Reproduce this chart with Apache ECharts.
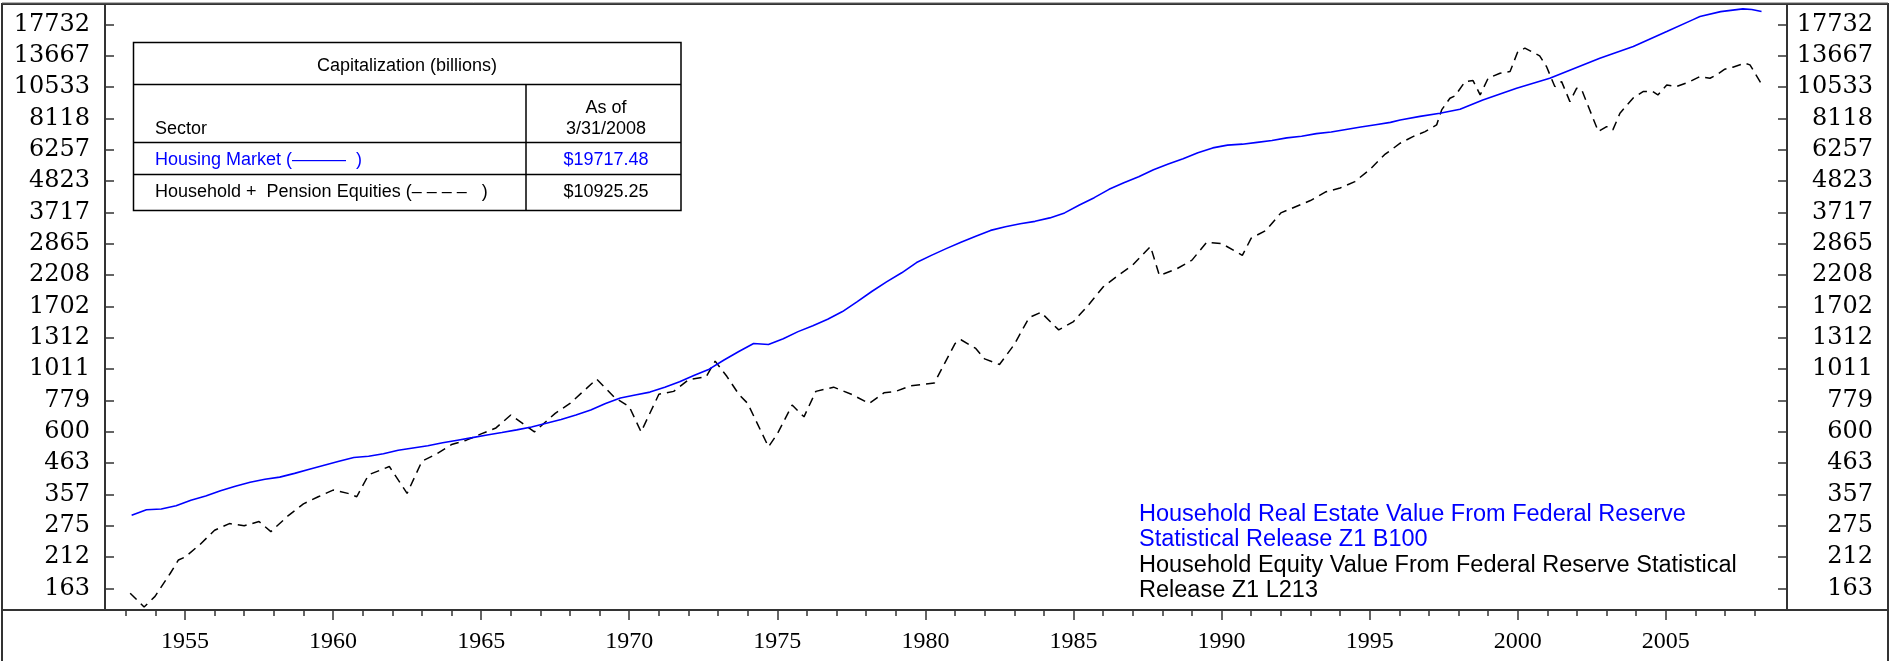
<!DOCTYPE html>
<html><head><meta charset="utf-8">
<script src="https://cdn.jsdelivr.net/npm/echarts@6/dist/echarts.min.js"></script>
<style>html,body{margin:0;padding:0;background:#fff}#c{width:1891px;height:661px}</style>
</head><body><div id="c"></div>
<script>
const yTickValues = [163,212,275,357,463,600,779,1011,1312,1702,2208,2865,3717,4823,6257,8118,10533,13667,17732];
const xMajorTicks = [1955,1960,1965,1970,1975,1980,1985,1990,1995,2000,2005];
const xMinorTicks = [1953,1954,1955,1956,1957,1958,1959,1960,1961,1962,1963,1964,1965,1966,1967,1968,1969,1970,1971,1972,1973,1974,1975,1976,1977,1978,1979,1980,1981,1982,1983,1984,1985,1986,1987,1988,1989,1990,1991,1992,1993,1994,1995,1996,1997,1998,1999,2000,2001,2002,2003,2004,2005,2006,2007,2008];

const housingDates = [1953.2,1953.7,1954.2,1954.7,1955.2,1955.7,1956.2,1956.7,1957.2,1957.7,1958.2,1958.7,1959.2,1959.7,1960.2,1960.7,1961.2,1961.7,1962.2,1962.7,1963.2,1963.7,1964.2,1964.7,1965.2,1965.7,1966.2,1966.7,1967.2,1967.7,1968.2,1968.7,1969.2,1969.7,1970.2,1970.7,1971.2,1971.7,1972.2,1972.7,1973.2,1973.7,1974.2,1974.7,1975.2,1975.7,1976.2,1976.7,1977.2,1977.7,1978.2,1978.7,1979.2,1979.7,1980.2,1980.7,1981.2,1981.7,1982.2,1982.7,1983.2,1983.7,1984.2,1984.7,1985.2,1985.7,1986.2,1986.7,1987.2,1987.7,1988.2,1988.7,1989.2,1989.7,1990.2,1990.7,1991.2,1991.7,1992.2,1992.7,1993.2,1993.7,1994.2,1994.7,1995.2,1995.7,1996.03,1996.7,1997.37,1998.05,1998.82,1999.96,2001.08,2002.77,2003.9,2005.03,2005.9,2006.15,2006.85,2007.6,2007.9,2008.23];
const housingValues = [300,314,316,325,340,352,368,382,395,405,412,425,440,455,470,485,490,500,515,525,535,548,560,572,585,597,610,625,645,665,690,720,760,795,815,835,870,910,960,1010,1090,1170,1250,1240,1300,1380,1450,1530,1630,1770,1930,2090,2250,2450,2600,2750,2900,3050,3200,3300,3380,3450,3550,3700,3950,4200,4500,4750,5000,5300,5550,5800,6100,6350,6500,6550,6650,6750,6900,7000,7150,7250,7400,7550,7700,7850,8010,8250,8470,8757,9459,10430,11330,13377,14735,16690,18394,18905,19700,20150,20050,19717];

const equityDates = [1953.15,1953.62,1953.99,1954.5,1954.78,1955.0,1955.5,1956.0,1956.5,1957.0,1957.5,1957.9,1958.5,1959.0,1959.5,1960.0,1960.5,1960.8,1961.2,1961.9,1962.5,1963.0,1963.5,1964.0,1964.5,1965.0,1965.5,1966.0,1966.8,1967.5,1968.0,1968.5,1968.9,1969.5,1970.0,1970.4,1971.0,1971.5,1972.0,1972.6,1972.9,1973.3,1973.7,1974.0,1974.7,1975.0,1975.5,1975.9,1976.3,1976.9,1977.5,1978.1,1978.6,1979.0,1979.5,1980.3,1981.0,1981.2,1981.7,1982.0,1982.5,1983.0,1983.5,1983.9,1984.5,1985.0,1985.5,1986.0,1986.5,1987.0,1987.6,1987.9,1988.5,1989.0,1989.5,1990.0,1990.7,1991.0,1991.5,1992.0,1993.0,1993.5,1994.0,1994.5,1995.0,1995.5,1996.03,1996.46,1996.87,1997.26,1997.43,1997.71,1997.88,1998.22,1998.49,1998.73,1999.0,1999.4,1999.74,2000.0,2000.24,2000.74,2000.97,2001.25,2001.48,2001.76,2001.99,2002.16,2002.72,2003.0,2003.21,2003.45,2003.89,2004.23,2004.56,2004.73,2005.03,2005.36,2005.81,2006.15,2006.49,2006.71,2006.99,2007.26,2007.67,2007.84,2008.2];
const equityValues = [157,140,153,185,207,212,235,265,280,275,285,262,300,330,350,370,360,350,420,450,360,470,500,540,560,590,620,690,600,700,760,850,930,800,740,600,820,840,925,950,1080,950,820,760,530,590,750,680,840,870,820,760,830,840,880,900,1250,1290,1200,1100,1050,1240,1550,1620,1400,1500,1720,2000,2200,2400,2800,2200,2330,2500,2900,2870,2600,3000,3200,3700,4100,4400,4550,4800,5300,6000,6602,6976,7271,7685,8706,9594,9780,11014,11107,9862,11330,11810,11970,14130,14540,13640,12480,10570,11014,9328,10430,10282,7272,7580,7374,8470,9594,10140,10140,9862,10717,10570,11014,11482,11330,11646,12212,12416,12836,12660,10925];

const tableTitle = 'Capitalization (billions)';
const tableRows = [['Housing Market (\u2014\u2014\u2014  )', '$19717.48'], ['Household +  Pension Equities (\u2013 \u2013 \u2013 \u2013   )', '$10925.25']];
const noteLines = ['Household Real Estate Value From Federal Reserve', 'Statistical Release Z1 B100', 'Household Equity Value From Federal Reserve Statistical', 'Release Z1 L213'];

const pair = (xs, ys) => xs.map((x, i) => [x, ys[i]]);
const chart = echarts.init(document.getElementById('c'), null, {renderer: 'canvas'});
const FR = '#333';
const yLab = {fontFamily: 'DejaVu Serif', fontSize: 24, color: '#000'};
const yAxisBase = {
  type: 'log', logBase: 10, min: 136.6, max: 20990,
  axisLine: {show: false},
  axisTick: {show: true, inside: true, length: 9, lineStyle: {color: FR, width: 1.5}, customValues: yTickValues},
  splitLine: {show: false}, minorTick: {show: false},
};
const xAxisBase = {type: 'value', min: 1952.3, max: 2009.09, axisLine: {show: false}, splitLine: {show: false}};

const TF = '18px "Liberation Sans"';
const T = (x, y, text, fill, align) => ({type: 'text', x: x, y: y, z: 21, silent: true,
  style: {text: text, font: TF, fill: fill, align: align, verticalAlign: 'middle'}});
const L = (x1, y1, x2, y2) => ({type: 'line', z: 21, silent: true, shape: {x1: x1, y1: y1, x2: x2, y2: y2}, style: {stroke: '#000', lineWidth: 1.5}});
const NF = '23.5px "Liberation Sans"';
const N = (y, text, fill) => ({type: 'text', x: 1139, y: y, z: 20, silent: true, style: {text: text, font: NF, fill: fill, verticalAlign: 'middle'}});

chart.setOption({
  animation: false,
  grid: {left: 105, right: 104, top: 4, bottom: 51},
  xAxis: [
    Object.assign({}, xAxisBase, {position: 'bottom',
      axisTick: {show: true, length: 6, lineStyle: {color: FR, width: 1.5}, customValues: xMinorTicks},
      axisLabel: {show: false}}),
    Object.assign({}, xAxisBase, {position: 'bottom',
      axisTick: {show: true, length: 10, lineStyle: {color: FR, width: 1.5}, customValues: xMajorTicks},
      axisLabel: {show: true, customValues: xMajorTicks, margin: 20, fontFamily: 'Liberation Serif', fontSize: 24, color: '#000', formatter: v => String(v)}})
  ],
  yAxis: [
    Object.assign({}, yAxisBase, {position: 'left',
      axisLabel: Object.assign({customValues: yTickValues, margin: 15, formatter: v => String(Math.round(v))}, yLab)}),
    Object.assign({}, yAxisBase, {position: 'right',
      axisLabel: Object.assign({customValues: yTickValues, margin: 86, align: 'right', formatter: v => String(Math.round(v))}, yLab)})
  ],
  series: [
    {type: 'line', name: 'Housing Market', data: pair(housingDates, housingValues), showSymbol: false, symbol: 'none',
     lineStyle: {color: '#0000ff', width: 1.6}, xAxisIndex: 0, yAxisIndex: 0, z: 3},
    {type: 'line', name: 'Household + Pension Equities', data: pair(equityDates, equityValues), showSymbol: false, symbol: 'none',
     lineStyle: {color: '#000', width: 1.5, type: [9, 6]}, xAxisIndex: 0, yAxisIndex: 0, z: 2}
  ],
  graphic: [
    {type: 'rect', z: 10, silent: true, shape: {x: 2, y: 4, width: 1886, height: 660}, style: {fill: null, stroke: FR, lineWidth: 2}},
    {type: 'line', z: 10, silent: true, shape: {x1: 2, y1: 3, x2: 1888, y2: 3}, style: {stroke: '#666', lineWidth: 1}},
    {type: 'line', z: 10, silent: true, shape: {x1: 2, y1: 610, x2: 1888, y2: 610}, style: {stroke: FR, lineWidth: 2}},
    {type: 'line', z: 10, silent: true, shape: {x1: 105, y1: 4, x2: 105, y2: 610}, style: {stroke: FR, lineWidth: 2}},
    {type: 'line', z: 10, silent: true, shape: {x1: 1787, y1: 4, x2: 1787, y2: 610}, style: {stroke: FR, lineWidth: 2}},
    {type: 'rect', z: 20, silent: true, shape: {x: 133.5, y: 42.5, width: 547.5, height: 168}, style: {fill: '#fff', stroke: '#000', lineWidth: 1.5}},
    L(133.5, 84.5, 681, 84.5),
    L(133.5, 142.5, 681, 142.5),
    L(133.5, 174.5, 681, 174.5),
    L(526, 84.5, 526, 210.5),
    T(407, 66, tableTitle, '#000', 'center'),
    T(155, 129, 'Sector', '#000', 'left'),
    T(606, 108, 'As of', '#000', 'center'),
    T(606, 129, '3/31/2008', '#000', 'center'),
    T(155, 160, tableRows[0][0], '#0000ff', 'left'),
    T(606, 160, tableRows[0][1], '#0000ff', 'center'),
    T(155, 192, tableRows[1][0], '#000', 'left'),
    T(606, 192, tableRows[1][1], '#000', 'center'),
    N(515, noteLines[0], '#0000ff'),
    N(540, noteLines[1], '#0000ff'),
    N(566, noteLines[2], '#000'),
    N(591, noteLines[3], '#000')
  ]
});
</script></body></html>
